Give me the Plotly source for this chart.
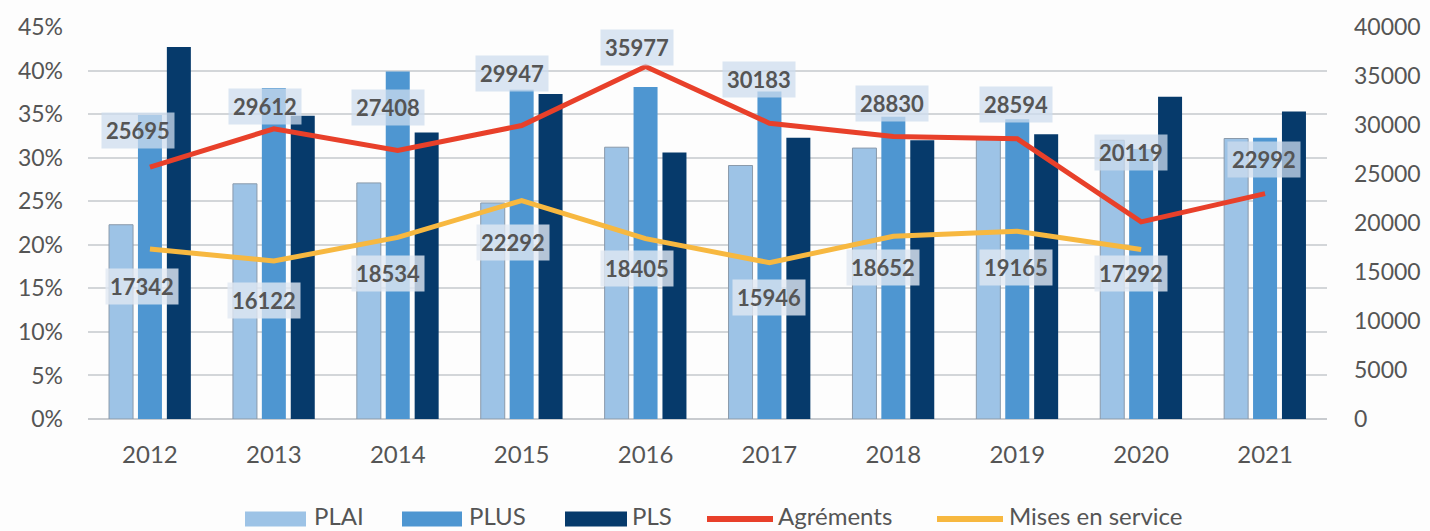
import plotly.graph_objects as go

years = ["2012", "2013", "2014", "2015", "2016", "2017", "2018", "2019", "2020", "2021"]
plai = [22.3, 27.0, 27.1, 24.8, 31.2, 29.1, 31.1, 32.3, 32.0, 32.2]
plus = [34.9, 38.0, 39.9, 37.8, 38.1, 37.6, 34.7, 34.4, 31.0, 32.3]
pls = [42.7, 34.8, 32.9, 37.3, 30.6, 32.3, 32.0, 32.7, 37.0, 35.3]
agrements = [25695, 29612, 27408, 29947, 35977, 30183, 28830, 28594, 20119, 22992]
mises_years = ["2012", "2013", "2014", "2015", "2016", "2017", "2018", "2019", "2020"]
mises = [17342, 16122, 18534, 22292, 18405, 15946, 18652, 19165, 17292]
legend_names = ["PLAI", "PLUS", "PLS", "Agréments", "Mises en service"]

# label placement offsets (pixels)
agr_dx = [-12, -9, -10, -10, -9, -10, -1, -1, -10, -1]
agr_dy = [37, 22, 43, 52, 19, 44, 33, 34, 69, 34]
mis_dx = [-8, -10, -10, -9, -9, 0, -10, -1, -10]
mis_dy = [-37, -39, -36, -42, -30, -35, -31, -36, -24]

FONT = "Lato"
TXT = "#555555"
C_PLAI, C_PLUS, C_PLS = "#9dc3e6", "#4e96d1", "#063a6b"
C_AGR, C_MIS = "#e8402a", "#f7b840"

W, H = 1430, 531
ML, MR, MT, MB = 88, 103, 27, 112
PW, PH = W - ML - MR, H - MT - MB


def px(x):
    return (x - ML) / PW


def py(y):
    return (H - MB - y) / PH


fig = go.Figure()
fig.add_trace(go.Bar(x=years, y=plai, name="PLAI",
                     marker=dict(color=C_PLAI, line=dict(color="#8a9aab", width=1))))
fig.add_trace(go.Bar(x=years, y=plus, name="PLUS", marker=dict(color=C_PLUS, line=dict(width=0))))
fig.add_trace(go.Bar(x=years, y=pls, name="PLS", marker=dict(color=C_PLS, line=dict(width=0))))
fig.add_trace(go.Scatter(x=years, y=agrements, name="Agréments", yaxis="y2", mode="lines",
                         line=dict(color=C_AGR, width=5)))
fig.add_trace(go.Scatter(x=mises_years, y=mises, name="Mises en service", yaxis="y2", mode="lines",
                         line=dict(color=C_MIS, width=5)))

annos = []
for i, (v, dx, dy) in enumerate(zip(agrements, agr_dx, agr_dy)):
    annos.append(dict(x=i, y=v, xref="x", yref="y2", text=f"<b>{v}</b>", showarrow=False,
                      xshift=dx, yshift=dy, bgcolor="rgba(205,220,238,0.75)",
                      font=dict(family=FONT, size=22, color=TXT), borderpad=4))
for i, (v, dx, dy) in enumerate(zip(mises, mis_dx, mis_dy)):
    annos.append(dict(x=i, y=v, xref="x", yref="y2", text=f"<b>{v}</b>", showarrow=False,
                      xshift=dx, yshift=dy, bgcolor="rgba(225,232,242,0.8)",
                      font=dict(family=FONT, size=22, color=TXT), borderpad=4))

# custom legend (wide swatches as in the reference)
shapes = []
sym_y = 519
txt_y = 515
sym_x = [(245, 306), (402, 462), (565, 627), (707, 773), (937, 1003)]
txt_x = [312, 467, 630, 776, 1007]
leg_cols = [C_PLAI, C_PLUS, C_PLS, C_AGR, C_MIS]
for k, (name, col) in enumerate(zip(legend_names, leg_cols)):
    x0, x1 = sym_x[k]
    if k < 3:
        shapes.append(dict(type="rect", xref="paper", yref="paper", x0=px(x0), x1=px(x1),
                           y0=py(sym_y + 7.5), y1=py(sym_y - 7.5), fillcolor=col,
                           line=dict(width=0), layer="above"))
    else:
        shapes.append(dict(type="line", xref="paper", yref="paper", x0=px(x0), x1=px(x1),
                           y0=py(sym_y), y1=py(sym_y), line=dict(color=col, width=6),
                           layer="above"))
    annos.append(dict(x=px(txt_x[k]), y=py(txt_y), xref="paper", yref="paper", text=name,
                      showarrow=False, xanchor="left", yanchor="middle",
                      font=dict(family=FONT, size=24, color=TXT)))

fig.update_layout(
    width=W, height=H,
    margin=dict(l=ML, r=MR, t=MT, b=MB, autoexpand=False),
    paper_bgcolor="#fdfdfd", plot_bgcolor="#fdfdfd",
    barmode="group", bargap=0.3, bargroupgap=0.17,
    font=dict(family=FONT, size=22, color=TXT),
    showlegend=False,
    xaxis=dict(type="category", range=[-0.5, 9.5], showgrid=False, showline=False, ticks="",
               ticklabelstandoff=19, tickfont=dict(size=24, color=TXT)),
    yaxis=dict(range=[0, 45], dtick=5, ticksuffix="%", showgrid=True, gridcolor="#d3d6d9",
               gridwidth=1.5, zeroline=True, zerolinecolor="#c8cbcf", zerolinewidth=1.5,
               ticklabelstandoff=24, tickfont=dict(size=23, color=TXT)),
    yaxis2=dict(range=[0, 40000], dtick=5000, tickformat="d", overlaying="y", side="right",
                showgrid=False, zeroline=False, ticklabelstandoff=26,
                tickfont=dict(size=23, color=TXT)),
    annotations=annos,
    shapes=shapes,
)

fig.write_html("out.html", config={"displayModeBar": False},
               post_script="document.body.style.margin='0';document.body.style.overflow='hidden';")
